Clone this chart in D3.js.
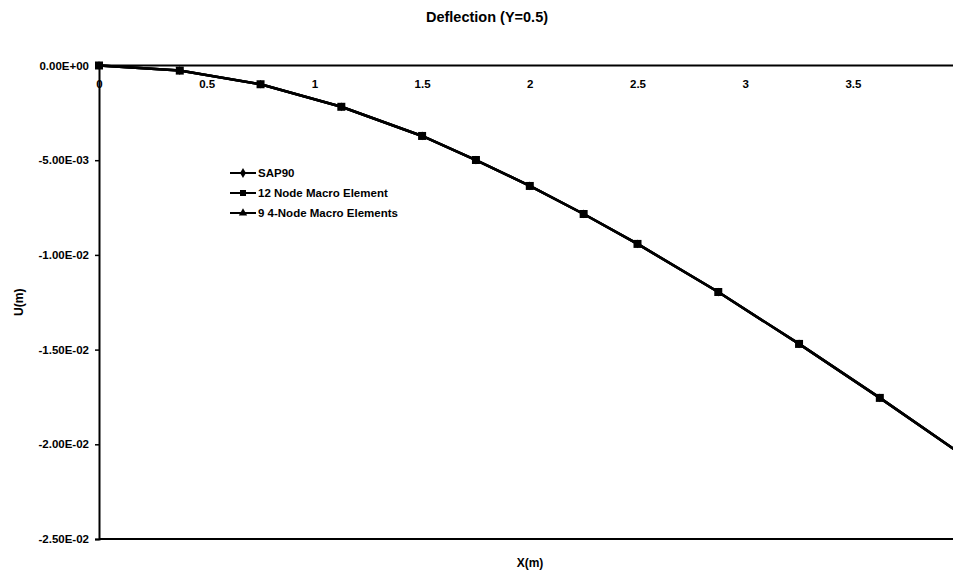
<!DOCTYPE html>
<html>
<head>
<meta charset="utf-8">
<script src="https://cdn.jsdelivr.net/npm/d3@7"></script>
<style>
  html, body { margin: 0; padding: 0; background: #fff; }
  svg text { font-family: Arial, "Liberation Sans", Helvetica, sans-serif; fill: #000; }
</style>
</head>
<body>
<svg id="chart" width="953" height="575"></svg>
<script>
// Deflection along X at Y = 0.5, three solution methods
const xPositions = [0, 0.375, 0.75, 1.125, 1.5, 1.75, 2.0, 2.25, 2.5, 2.875, 3.25, 3.625, 4.0];
const sap90      = [0, -0.00027, -0.00099, -0.00218, -0.00372, -0.00499, -0.00636, -0.00784, -0.00942, -0.01196, -0.0147, -0.01755, -0.0205];
const node12     = [0, -0.00027, -0.00099, -0.00218, -0.00372, -0.00499, -0.00636, -0.00784, -0.00942, -0.01196, -0.0147, -0.01755, -0.0205];
const node4x9    = [0, -0.00027, -0.00099, -0.00218, -0.00372, -0.00499, -0.00636, -0.00784, -0.00942, -0.01196, -0.0147, -0.01755, -0.0205];
const seriesNames = ["SAP90", "12 Node Macro Element", "9 4-Node Macro Elements"];
const xTickValues = [0, 0.5, 1, 1.5, 2, 2.5, 3, 3.5];
const yTickValues = [0, -0.005, -0.01, -0.015, -0.02, -0.025];

const svg = d3.select("#chart");
const W = 953, H = 575;
const plotLeft = 99, plotTop = 65.5, plotBottom = 539;

const x = d3.scaleLinear().domain([0, 4]).range([plotLeft, plotLeft + 4 * 215.4]);
const y = d3.scaleLinear().domain([-0.025, 0]).range([plotBottom, plotTop]);

// Excel-style scientific labels: 0.00E+00, -5.00E-03
function sci(v) {
  if (v === 0) return "0.00E+00";
  const s = v.toExponential(2);
  const [m, e] = s.split("e");
  const n = parseInt(e, 10);
  const sign = n < 0 ? "-" : "+";
  const mag = String(Math.abs(n)).padStart(2, "0");
  return m + "E" + sign + mag;
}

// title
svg.append("text")
  .attr("x", 487).attr("y", 22)
  .attr("text-anchor", "middle")
  .attr("font-size", 14.5).attr("font-weight", "bold")
  .text("Deflection (Y=0.5)");

// plot frame bottom edge
svg.append("line")
  .attr("x1", plotLeft).attr("x2", W)
  .attr("y1", plotBottom).attr("y2", plotBottom)
  .attr("stroke", "#000").attr("stroke-width", 2);

// y axis
const yAxis = d3.axisLeft(y)
  .tickValues(yTickValues)
  .tickFormat(sci)
  .tickSize(4)
  .tickPadding(6);
const gy = svg.append("g").attr("transform", `translate(${plotLeft},0)`).call(yAxis);
gy.select(".domain").attr("stroke", "#000").attr("stroke-width", 2);
gy.selectAll(".tick line").attr("stroke", "#000").attr("stroke-width", 1.5);
gy.selectAll(".tick text")
  .attr("font-size", 11.5).attr("font-weight", "bold")
  .style("font-family", "Arial, 'Liberation Sans', sans-serif");

// x axis along the zero line, labels below it
const xAxis = d3.axisBottom(x)
  .tickValues(xTickValues)
  .tickFormat(d => d3.format("")(d))
  .tickSize(0)
  .tickPadding(14);
const gx = svg.append("g").attr("transform", `translate(0,${y(0)})`).call(xAxis);
gx.select(".domain").remove();
gx.append("line")
  .attr("x1", plotLeft).attr("x2", W).attr("y1", 0).attr("y2", 0)
  .attr("stroke", "#000").attr("stroke-width", 2);
gx.selectAll(".tick text")
  .attr("font-size", 11.5).attr("font-weight", "bold")
  .style("font-family", "Arial, 'Liberation Sans', sans-serif");

// axis titles
svg.append("text")
  .attr("x", 530).attr("y", 567)
  .attr("text-anchor", "middle")
  .attr("font-size", 12).attr("font-weight", "bold")
  .text("X(m)");
svg.append("text")
  .attr("transform", `translate(23,${(plotTop + plotBottom) / 2}) rotate(-90)`)
  .attr("text-anchor", "middle")
  .attr("font-size", 12).attr("font-weight", "bold")
  .text("U(m)");

// series: squares drawn last so they sit on top of the coincident markers
const series = [
  { name: seriesNames[0], values: sap90,   symbol: d3.symbolDiamond,  size: 22 },
  { name: seriesNames[2], values: node4x9, symbol: d3.symbolTriangle, size: 22 },
  { name: seriesNames[1], values: node12,  symbol: d3.symbolSquare,   size: 64 }
];

const plot = svg.append("g");

const line = d3.line()
  .x((d, i) => x(xPositions[i]))
  .y(d => y(d));

series.forEach(s => {
  plot.append("path")
    .datum(s.values)
    .attr("d", line)
    .attr("fill", "none")
    .attr("stroke", "#000")
    .attr("stroke-width", 2.5);
  plot.selectAll(null)
    .data(s.values)
    .enter().append("path")
    .attr("transform", (d, i) => `translate(${x(xPositions[i])},${y(d)})`)
    .attr("d", d3.symbol().type(s.symbol).size(s.size))
    .attr("fill", "#000");
});

// legend
const legend = svg.append("g").attr("transform", "translate(230,173)");
const legendItems = [
  { name: seriesNames[0], symbol: d3.symbolDiamond,  size: 30 },
  { name: seriesNames[1], symbol: d3.symbolSquare,   size: 36 },
  { name: seriesNames[2], symbol: d3.symbolTriangle, size: 30 }
];
legendItems.forEach((it, i) => {
  const g = legend.append("g").attr("transform", `translate(0,${i * 20})`);
  g.append("line").attr("x1", 0).attr("x2", 26).attr("y1", 0).attr("y2", 0)
    .attr("stroke", "#000").attr("stroke-width", 2);
  g.append("path").attr("transform", "translate(13,0)")
    .attr("d", d3.symbol().type(it.symbol).size(it.size)).attr("fill", "#000");
  g.append("text").attr("x", 28).attr("y", 4)
    .attr("font-size", 11.5).attr("font-weight", "bold")
    .text(it.name);
});
</script>
</body>
</html>
